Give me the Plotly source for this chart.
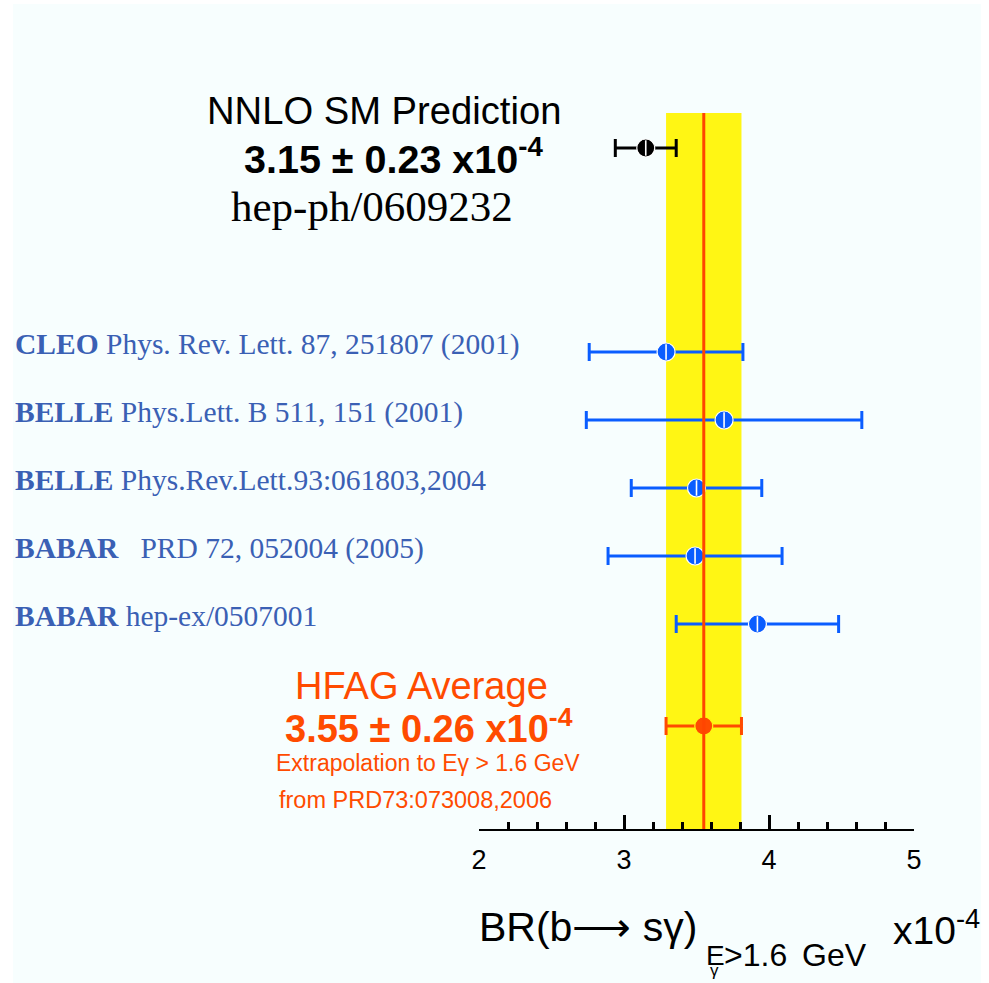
import plotly.graph_objects as go

# ---------------- data ----------------
exp_names = ["CLEO", "BELLE", "BELLE", "BABAR", "BABAR"]
exp_refs = ["Phys. Rev. Lett. 87, 251807 (2001)",
            "Phys.Lett. B 511, 151 (2001)",
            "Phys.Rev.Lett.93:061803,2004",
            "\u00a0 PRD 72, 052004 (2005)",
            "hep-ex/0507001"]
exp_values = [3.29, 3.69, 3.50, 3.49, 3.92]
exp_errors = [0.53, 0.95, 0.45, 0.60, 0.56]
exp_rows = [3, 4, 5, 6, 7]

sm_value = [3.15]
sm_error = [0.21]
sm_row = [0]

hfag_value = [3.55]
hfag_error = [0.26]
hfag_row = [8.5]

W, H = 989, 983
BLUE = "#0A5DFF"
LBLUE = "#3A60B4"
ORANGE = "#FF4B00"
YELLOW = "#FFF614"

# horizontal placement helper (compensates for the observed horizontal page mapping)
OX, SX = 8.0, 0.9838


def px(x):
    return min(max((x - OX) / SX / W, 0), 1)


def py(y):
    return 1 - y / H


fig = go.Figure()


def add_series(xs, ys, errs, color, stripe):
    fig.add_trace(go.Scatter(
        x=xs, y=ys, mode="markers",
        error_x=dict(type="data", array=errs, color=color, thickness=3, width=9),
        marker=dict(symbol="circle", size=18, color=color, line=dict(color=stripe, width=1.2)),
        showlegend=False, cliponaxis=False, hoverinfo="skip"))
    fig.add_trace(go.Scatter(
        x=xs, y=ys, mode="markers",
        marker=dict(symbol="line-ns", size=11, color=stripe, line=dict(color=stripe, width=1.6)),
        showlegend=False, cliponaxis=False, hoverinfo="skip"))


add_series(exp_values, exp_rows, exp_errors, BLUE, "white")
add_series(sm_value, sm_row, sm_error, "black", "white")
add_series(hfag_value, hfag_row, hfag_error, ORANGE, YELLOW)

band_top = 1 - 113 / 829

shapes = [
    dict(type="rect", xref="paper", yref="paper", x0=px(13), x1=1, y0=0, y1=py(4),
         fillcolor="#F7FEFE", line=dict(width=0), layer="below"),
    dict(type="rect", xref="x", yref="y domain",
         x0=hfag_value[0] - hfag_error[0], x1=hfag_value[0] + hfag_error[0],
         y0=0, y1=band_top, fillcolor=YELLOW, line=dict(width=0), layer="below"),
    dict(type="line", xref="x", yref="y domain",
         x0=hfag_value[0], x1=hfag_value[0], y0=0, y1=band_top,
         line=dict(color="#FF4500", width=3), layer="above"),
]

ann = []
SANS = "Liberation Sans, Arial, Helvetica, sans-serif"
SERIF = "Liberation Serif, Times New Roman, serif"

for name, ref, row in zip(exp_names, exp_refs, exp_rows):
    ann.append(dict(text=f"<b>{name}</b> {ref}", xref="paper", yref="y",
                    x=px(13), y=row, xanchor="left", yanchor="middle", yshift=8,
                    showarrow=False, font=dict(family=SERIF, size=29.5, color=LBLUE)))

# header texts
ann += [
    dict(text="NNLO SM Prediction", x=px(384), y=py(111), font=dict(family=SANS, size=38.2, color="black")),
    dict(text=f"<b>{sm_value[0]:.2f} \u00b1 0.23 x10<sup>-4</sup></b>", x=px(393), y=py(156),
         font=dict(family=SANS, size=39.5, color="black")),
    dict(text="hep-ph/0609232", x=px(372), y=py(206), font=dict(family=SERIF, size=43, color="black")),
    dict(text="HFAG Average", x=px(421), y=py(686), font=dict(family=SANS, size=38, color=ORANGE)),
    dict(text=f"<b>{hfag_value[0]:.2f} \u00b1 {hfag_error[0]:.2f} x10<sup>-4</sup></b>", x=px(429), y=py(726),
         font=dict(family=SANS, size=38, color=ORANGE)),
    dict(text="Extrapolation to E\u03b3 > 1.6 GeV", x=px(428), y=py(763),
         font=dict(family=SANS, size=23, color=ORANGE)),
    dict(text="from PRD73:073008,2006", x=px(415), y=py(800),
         font=dict(family=SANS, size=23.5, color=ORANGE)),
]
for a in ann[len(exp_names):]:
    a.update(xref="paper", yref="paper", xanchor="center", yanchor="middle", showarrow=False)

# axis title pieces
title_parts = [
    dict(text="BR(b\u27f6 s\u03b3)", x=px(477), y=py(927), xanchor="left", size=41),
    dict(text="E", x=px(704), y=py(955), xanchor="left", size=28),
    dict(text="\u03b3", x=px(714), y=py(970), xanchor="center", size=17),
    dict(text=">1.6", x=px(722), y=py(955), xanchor="left", size=32),
    dict(text="GeV", x=px(800), y=py(955), xanchor="left", size=32),
    dict(text="x10<sup>-4</sup>", x=px(891), y=py(927), xanchor="left", size=39),
]
for p in title_parts:
    size = p.pop("size")
    p.update(xref="paper", yref="paper", yanchor="middle", showarrow=False,
             font=dict(family=SANS, size=size, color="black"))
    ann.append(p)

fig.update_layout(
    width=W, height=H, autosize=False,
    margin=dict(l=0, r=0, t=0, b=0),
    paper_bgcolor="white", plot_bgcolor="rgba(0,0,0,0)",
    shapes=shapes, annotations=ann, showlegend=False,
    xaxis=dict(range=[2, 5], domain=[px(479), px(914)], dtick=1, tick0=2,
               ticks="inside", ticklen=14, tickwidth=3, tickcolor="black",
               showline=True, linewidth=2, linecolor="black", showgrid=False, zeroline=False,
               tickfont=dict(family=SANS, size=27, color="black"), ticklabelstandoff=6,
               minor=dict(dtick=0.2, ticks="inside", ticklen=7, tickwidth=3, tickcolor="black",
                          showgrid=False)),
    yaxis=dict(range=[(829 - 148) / 68, -148 / 68], domain=[154 / 983, 1], visible=False,
               showgrid=False, zeroline=False),
)

fig.write_html("out.html",
               config={"displayModeBar": False, "responsive": False},
               post_script="document.body.style.margin='0';document.body.style.overflow='hidden';")
